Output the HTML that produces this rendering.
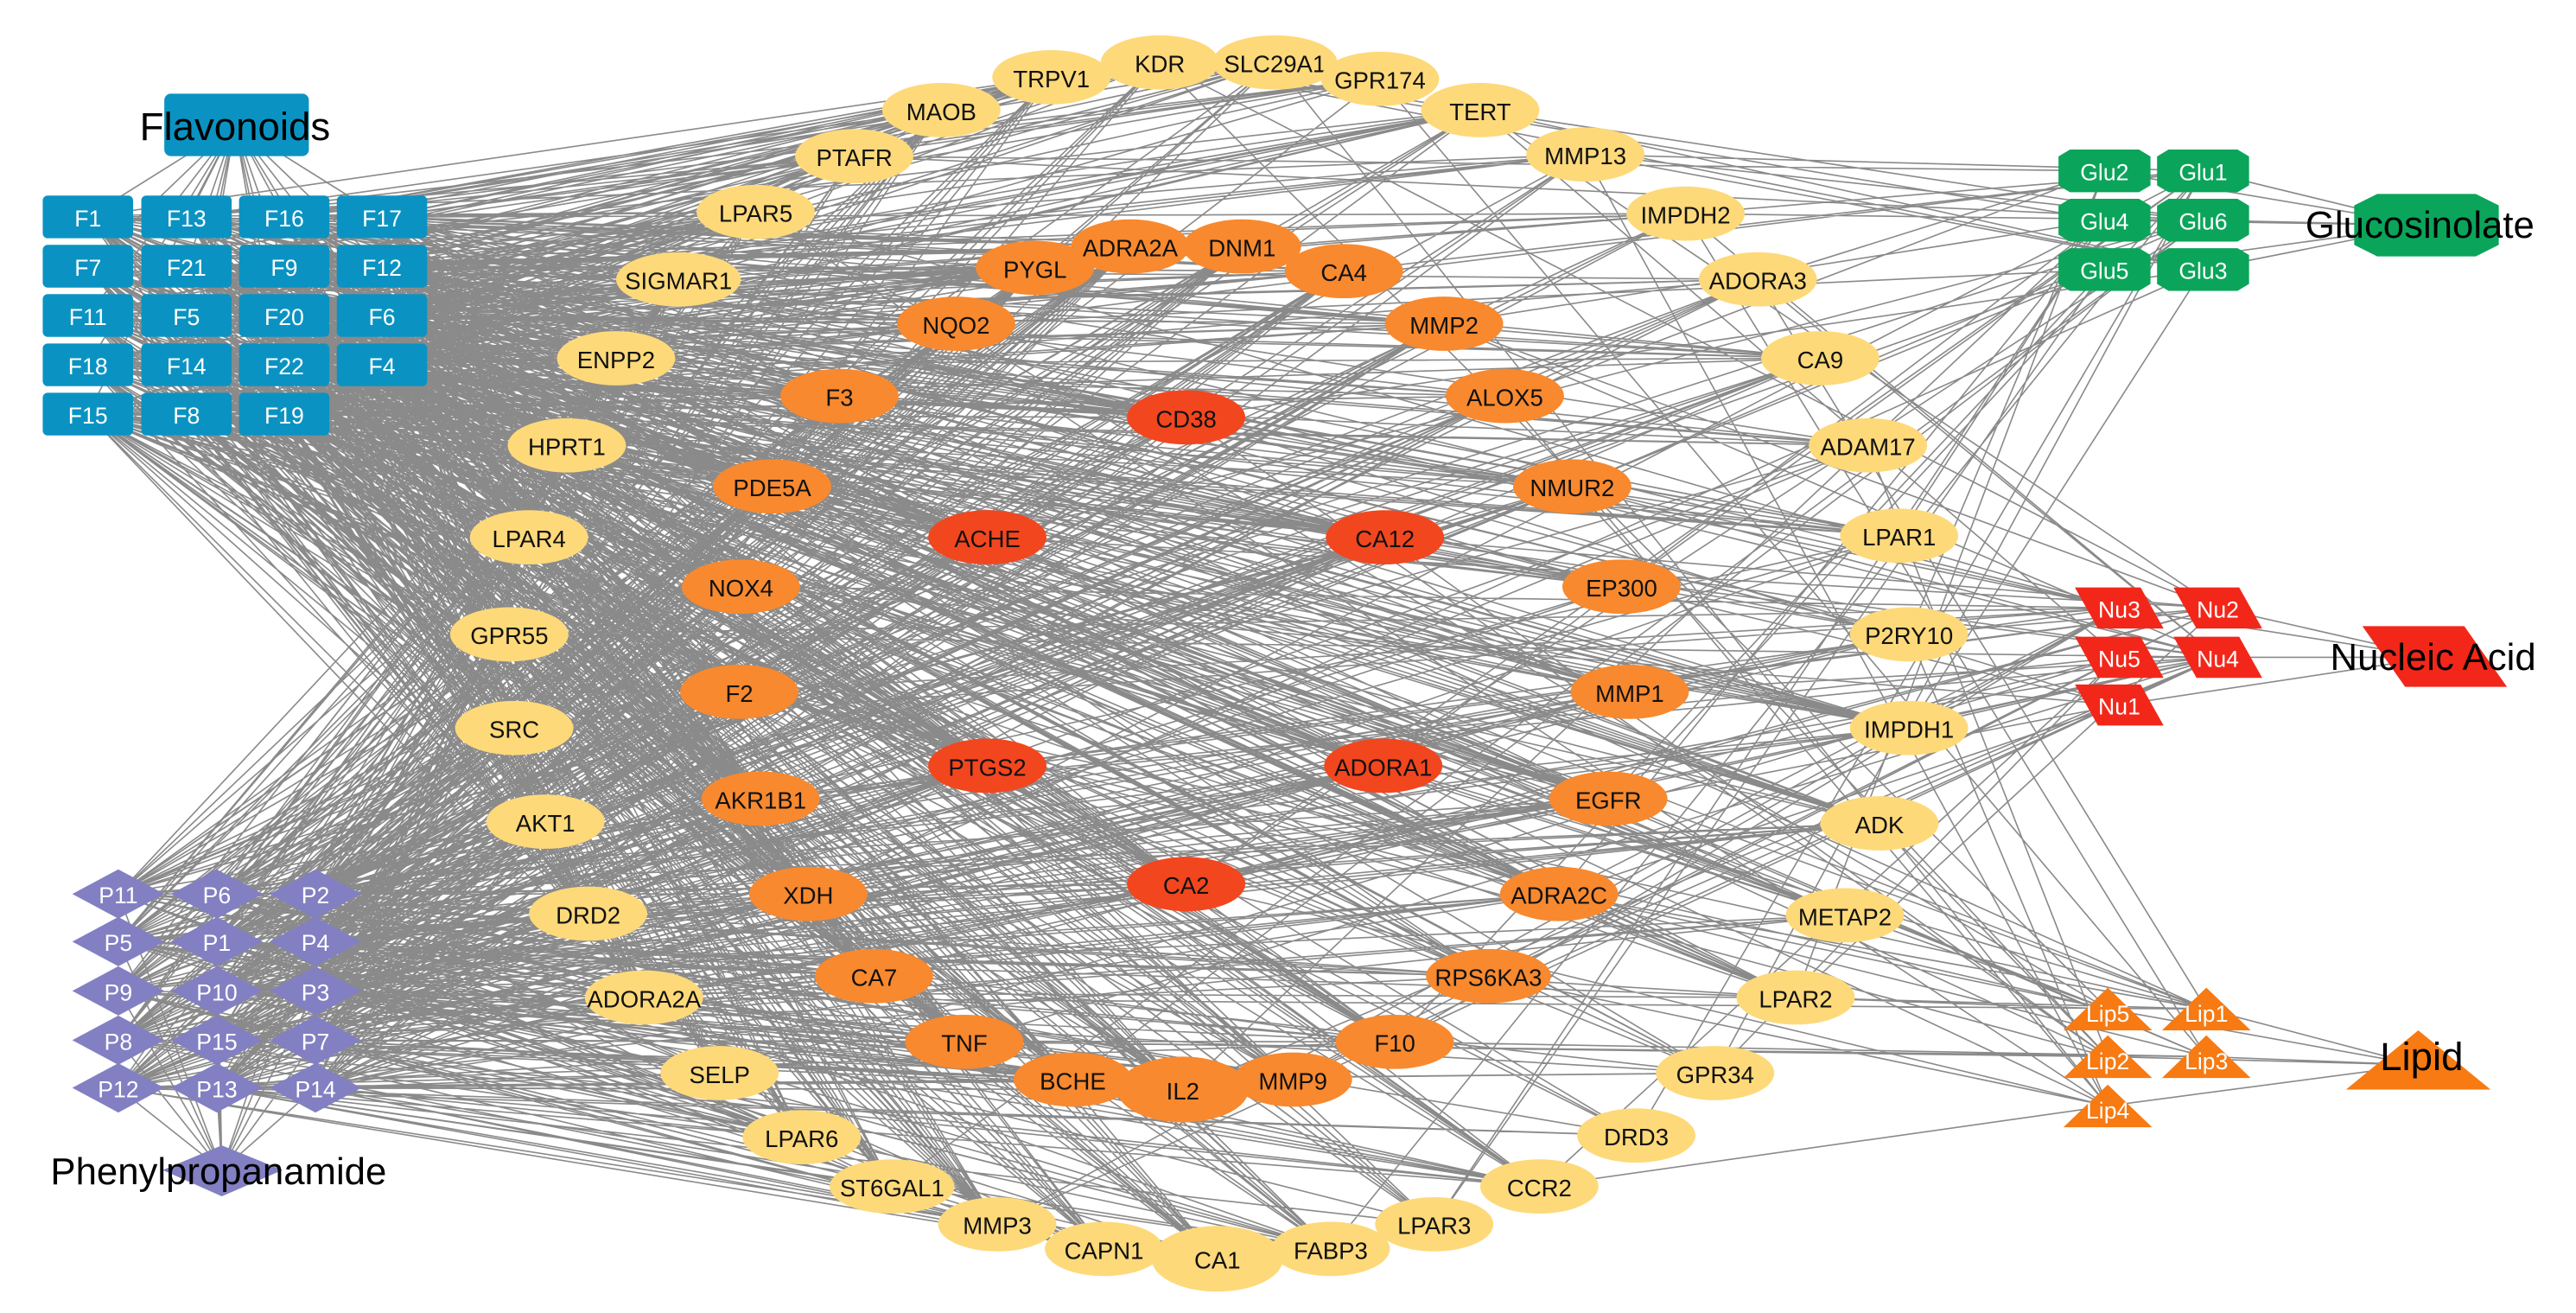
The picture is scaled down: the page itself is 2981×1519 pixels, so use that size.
<!DOCTYPE html>
<html><head><meta charset="utf-8">
<style>
html,body{margin:0;padding:0;background:#fff;}
svg{display:block;}
text{font-family:"Liberation Sans",Arial,sans-serif;text-anchor:middle;dominant-baseline:central;}
</style></head>
<body>
<svg id="s" width="2981" height="1519" viewBox="0 0 1568 799" xmlns="http://www.w3.org/2000/svg">
<g id="edges" stroke="#8a8a8a" stroke-width="0.85" fill="none"></g>
<g id="nodes"></g>
</svg>
<script>
var NS="http://www.w3.org/2000/svg";
function el(p,t,a,txt){var e=document.createElementNS(NS,t);for(var k in a)e.setAttribute(k,a[k]);if(txt!=null)e.textContent=txt;p.appendChild(e);return e;}
var seed=12345;function rnd(){seed=(seed*1103515245+12345)%2147483648;return seed/2147483648;}
var Y="#FDD97A",O="#F8892F",R="#F2461F";
var T=[
["MAOB",573,67,Y],["TRPV1",640,47,Y],["KDR",706,38,Y],["SLC29A1",776,38,Y],["GPR174",840,48,Y],["TERT",901,67,Y],["MMP13",965,94,Y],["IMPDH2",1026,130,Y],["ADORA3",1070,170,Y],["CA9",1108,218,Y],["ADAM17",1137,271,Y],["LPAR1",1156,326,Y],["P2RY10",1162,386,Y],["IMPDH1",1162,443,Y],["ADK",1144,501,Y],["METAP2",1123,557,Y],["LPAR2",1093,607,Y],["GPR34",1044,653,Y],["DRD3",996,691,Y],["CCR2",937,722,Y],["LPAR3",873,745,Y],["FABP3",810,760,Y],["CA1",741,766,Y],["CAPN1",672,760,Y],["MMP3",607,745,Y],["ST6GAL1",543,722,Y],["LPAR6",488,692,Y],["SELP",438,653,Y],["ADORA2A",392,607,Y],["DRD2",358,556,Y],["AKT1",332,500,Y],["SRC",313,443,Y],["GPR55",310,386,Y],["LPAR4",322,327,Y],["HPRT1",345,271,Y],["ENPP2",375,218,Y],["SIGMAR1",413,170,Y],["LPAR5",460,129,Y],["PTAFR",520,95,Y],
["PYGL",630,163,O],["ADRA2A",688,150,O],["DNM1",756,150,O],["CA4",818,165,O],["NQO2",582,197,O],["MMP2",879,197,O],["F3",511,241,O],["ALOX5",916,241,O],["PDE5A",470,296,O],["NMUR2",957,296,O],["NOX4",451,357,O],["EP300",987,357,O],["F2",450,421,O],["MMP1",992,421,O],["AKR1B1",463,486,O],["EGFR",979,486,O],["XDH",492,544,O],["ADRA2C",949,544,O],["CA7",532,594,O],["RPS6KA3",906,594,O],["TNF",587,634,O],["F10",849,634,O],["BCHE",653,657,O],["MMP9",787,657,O],["IL2",720,663,O],
["CD38",722,254,R],["ACHE",601,327,R],["CA12",843,327,R],["PTGS2",601,466,R],["ADORA1",842,466,R],["CA2",722,538,R]];
var E=document.getElementById("edges"),N=document.getElementById("nodes");
var C=[];
var fl=[["F1","F13","F16","F17"],["F7","F21","F9","F12"],["F11","F5","F20","F6"],["F18","F14","F22","F4"],["F15","F8","F19"]];
var fx=[53.5,113.5,173,232.5],fy=[132,162,192,222,252];
fl.forEach(function(r,i){r.forEach(function(n,j){C.push({n:n,x:fx[j],y:fy[i],t:"F"});});});
var pl=[["P11","P6","P2"],["P5","P1","P4"],["P9","P10","P3"],["P8","P15","P7"],["P12","P13","P14"]];
var px=[72,132,192],py=[544,573,603,633,662];
pl.forEach(function(r,i){r.forEach(function(n,j){C.push({n:n,x:px[j],y:py[i],t:"P"});});});
[["Glu2",1281,104],["Glu1",1341,104],["Glu4",1281,134],["Glu6",1341,134],["Glu5",1281,164],["Glu3",1341,164]].forEach(function(a){C.push({n:a[0],x:a[1],y:a[2],t:"G"});});
[["Nu3",1290,370],["Nu2",1350,370],["Nu5",1290,400],["Nu4",1350,400],["Nu1",1290,429]].forEach(function(a){C.push({n:a[0],x:a[1],y:a[2],t:"N"});});
[["Lip5",1283,614],["Lip1",1343,614],["Lip2",1283,643],["Lip3",1343,643],["Lip4",1283,673]].forEach(function(a){C.push({n:a[0],x:a[1],y:a[2],t:"L"});});
var hub={F:[143,76],P:[135,712],G:[1477,137],N:[1482,400],L:[1472,648]};
var d="";
C.forEach(function(c){var h=hub[c.t];d+="M"+c.x+" "+c.y+"L"+h[0]+" "+h[1];});
C.forEach(function(c){
  T.forEach(function(t){
    var p;
    var left=t[1]<700;
    if(c.t=="F"){p=t[3]==R?0.8:(t[3]==O?0.6:0.4);if(left)p+=0.2;}
    else if(c.t=="P"){p=t[3]==R?0.65:(t[3]==O?0.5:0.3);if(left)p+=0.15;}
    else {p=t[3]==R?0.3:(t[3]==O?0.18:0.13);if(left)p*=0.6;}
    if(rnd()<p)d+="M"+c.x+" "+c.y+"L"+t[1]+" "+t[2];
  });
});
el(E,"path",{d:d});
T.forEach(function(t){
  var rx=36,ry=16.5;if(t[0]=="IL2"||t[0]=="CA1"){rx=40;ry=20;}
  if(t[0]=="SLC29A1"||t[0]=="RPS6KA3"||t[0]=="SIGMAR1"||t[0]=="ST6GAL1")rx=38;
  el(N,"ellipse",{cx:t[1],cy:t[2],rx:rx,ry:ry,fill:t[3]});
  el(N,"text",{x:t[1],y:t[2]+1,"font-size":14.5,fill:"#111"},t[0]);
});
C.forEach(function(c){
  var x=c.x,y=c.y;
  if(c.t=="F"){el(N,"rect",{x:x-27.5,y:y-13,width:55,height:26,rx:3,fill:"#0A93C2"});}
  else if(c.t=="P"){el(N,"polygon",{points:(x-28)+","+y+" "+x+","+(y-15)+" "+(x+28)+","+y+" "+x+","+(y+15),fill:"#8280C2"});}
  else if(c.t=="G"){var w=28,h=13,a=7;el(N,"polygon",{points:[x-w,y-h+a*0.6,x-w+a,y-h,x+w-a,y-h,x+w,y-h+a*0.6,x+w,y+h-a*0.6,x+w-a,y+h,x-w+a,y+h,x-w,y+h-a*0.6].join(","),fill:"#0AA55A"});}
  else if(c.t=="N"){el(N,"polygon",{points:(x-27)+","+(y-12.5)+" "+(x+13)+","+(y-12.5)+" "+(x+27)+","+(y+12.5)+" "+(x-13)+","+(y+12.5),fill:"#F2271A"});}
  else {el(N,"polygon",{points:(x-27)+","+(y+13)+" "+x+","+(y-13)+" "+(x+27)+","+(y+13),fill:"#F77A12"});}
  el(N,"text",{x:x,y:(c.t=="L"?y+3:y+1),"font-size":14,fill:"#fff"},c.n);
});
el(N,"rect",{x:100,y:57,width:88,height:38,rx:4,fill:"#0A93C2"});
el(N,"text",{x:143,y:77,"font-size":24,fill:"#000"},"Flavonoids");
el(N,"polygon",{points:"99,712 135,697 172,712 135,728",fill:"#8280C2"});
el(N,"text",{x:133,y:713,"font-size":23,fill:"#000"},"Phenylpropanamide");
(function(){var x=1477,y=137,w=44,h=19,a=14;el(N,"polygon",{points:[x-w,y-h+a*0.5,x-w+a,y-h,x+w-a,y-h,x+w,y-h+a*0.5,x+w,y+h-a*0.5,x+w-a,y+h,x-w+a,y+h,x-w,y+h-a*0.5].join(","),fill:"#0AA55A"});})();
el(N,"text",{x:1473,y:137,"font-size":23,fill:"#000"},"Glucosinolate");
el(N,"polygon",{points:"1438,381 1500,381 1526,418 1464,418",fill:"#F2271A"});
el(N,"text",{x:1481,y:400,"font-size":23,fill:"#000"},"Nucleic Acid");
el(N,"polygon",{points:"1428,663 1472,627 1516,663",fill:"#F77A12"});
el(N,"text",{x:1474,y:643,"font-size":24,fill:"#000"},"Lipid");
</script>
</body></html>
